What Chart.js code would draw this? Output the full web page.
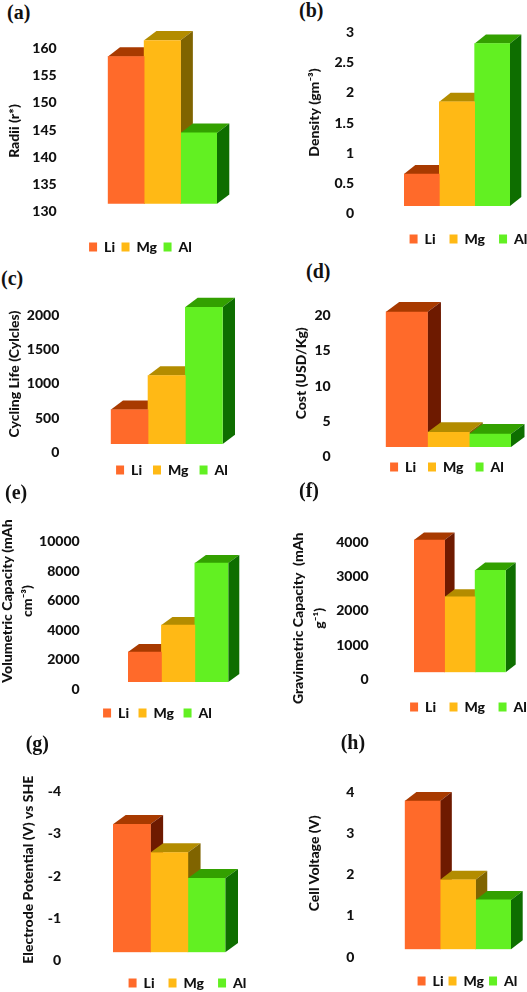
<!DOCTYPE html>
<html><head><meta charset="utf-8">
<style>
html,body{margin:0;padding:0;background:#fff;width:527px;height:992px;overflow:hidden}
#page{position:relative;width:527px;height:992px;overflow:hidden}
canvas{position:absolute}
.tag{position:absolute;font:bold 20px "Liberation Serif",serif;color:#111;line-height:20px}
</style>
<script src="https://cdn.jsdelivr.net/npm/chart.js@4"></script>
</head><body><div id="page"></div>
<script>
const metals = ['Li','Mg','Al'];
const radii = [157,160,143];
const density = [0.53,1.73,2.7];
const cycles = [500,1000,2000];
const cost = [19.2,2.1,1.85];
const volumetric = [2033,3860,8060];
const gravimetric = [3860,2200,2980];
const potential = [-3.03,-2.36,-1.75];
const voltage = [3.6,1.69,1.2];

const frontColors = ['#FF6A2A','#FFB915','#62F022'];
const topColors = ['#A83A00','#B38C00','#33A000'];
const sideColors = ['#6E1A00','#806400','#0E6E00'];
const FONT = 'Lato';
const WEIGHT = '900';

const panels = [
 {tag:'(a)',tagX:7,tagY:12,values:radii,min:130,max:160,step:5,title:'Radii (r*)',titleX:14,titleY:131,
  l:107.7,r:217,top:40.3,base:203.7,dx:12.3,dy:9.3,labelR:56.7,labelOff:8,legendC:140.5,legendY:246.7,gap:6.5,X0:0},
 {tag:'(b)',tagX:299,tagY:10,values:density,min:0,max:3,step:0.5,title:'Density (gm⁻³)',titleX:314,titleY:112.5,
  l:404,r:510,top:25.4,base:206,dx:11.3,dy:9,labelR:354,labelOff:7.3,legendC:468.5,legendY:239,gap:14,X0:285},
 {tag:'(c)',tagX:1,tagY:278,values:cycles,min:0,max:2000,step:500,title:'Cycling Life (Cylcles)',titleX:14,titleY:374,
  l:110.7,r:222.7,top:307,base:444,dx:12.3,dy:9.3,labelR:59.3,labelOff:8.3,legendC:172,legendY:470,gap:11,X0:0},
 {tag:'(d)',tagX:306,tagY:271,values:cost,min:0,max:20,step:5,title:'Cost (USD/Kg)',titleX:301,titleY:373.3,
  l:385.7,r:511,top:306.4,base:447,dx:13.5,dy:10,labelR:330.7,labelOff:9.3,legendC:447,legendY:467,gap:12,X0:285},
 {tag:'(e)',tagX:5,tagY:492,values:volumetric,min:0,max:10000,step:2000,title:['Volumetric Capacity (mAh','cm⁻³)'],titleX:7,titleY:601,
  l:128,r:228.3,top:534.4,base:682,dx:11,dy:8,labelR:79.7,labelOff:7.3,legendC:157.3,legendY:713,gap:9.5,X0:0},
 {tag:'(f)',tagX:299,tagY:490,values:gravimetric,min:0,max:4000,step:1000,title:['Gravimetric Capacity  (mAh','g⁻¹)'],titleX:298.7,titleY:618.3,
  l:414,r:505.7,top:535.3,base:672.3,dx:10,dy:7.7,labelR:368.7,labelOff:7,legendC:468.5,legendY:706.7,gap:13.5,X0:285},
 {tag:'(g)',tagX:25.7,tagY:743,values:potential,min:-4,max:0,step:1,reverse:true,title:'Electrode Potential (V) vs SHE',titleX:28.3,titleY:869.7,
  l:113,r:225.3,top:783.3,base:952.3,dx:12.7,dy:9.3,labelR:61,labelOff:8.3,legendC:187.3,legendY:983.3,gap:14,X0:0},
 {tag:'(h)',tagX:340.7,tagY:741.7,values:voltage,min:0,max:4,step:1,title:'Cell Voltage (V)',titleX:314,titleY:863.3,
  l:404.7,r:511,top:784.6,base:949.3,dx:11.7,dy:9,labelR:354.3,labelOff:7.7,legendC:467.7,legendY:981,gap:5,X0:285}
];

const extrude = {
  id:'extrude',
  beforeDatasetsDraw(chart,args,opts){
    const ctx=chart.ctx, dx=opts.dx, dy=opts.dy, floor=chart.chartArea.bottom;
    metals.forEach((m,i)=>{
      const b=chart.getDatasetMeta(i).data[0];
      const l=b.x-b.width/2, r=b.x+b.width/2, t=Math.min(b.y,b.base), bt=Math.min(Math.max(b.y,b.base),floor);
      ctx.fillStyle=topColors[i];
      ctx.beginPath();ctx.moveTo(l,t);ctx.lineTo(l+dx,t-dy);ctx.lineTo(r+dx,t-dy);ctx.lineTo(r,t);ctx.closePath();ctx.fill();
      ctx.fillStyle=sideColors[i];
      ctx.beginPath();ctx.moveTo(r,t);ctx.lineTo(r+dx,t-dy);ctx.lineTo(r+dx,bt-dy);ctx.lineTo(r,bt);ctx.closePath();ctx.fill();
    });
  }
};

const page=document.getElementById('page');
const TITLE_SIZE=14, TITLE_LH=1.45, LEG_SIZE=14;

panels.forEach(p=>{
  const tag=document.createElement('div');
  tag.className='tag';tag.textContent=p.tag;
  tag.style.left=p.tagX+'px';tag.style.top=(p.tagY-10)+'px';
  page.appendChild(tag);

  const Y0=Math.floor(p.top-22);
  const W=Math.round(2*(p.legendC-p.X0));
  const H=Math.round(p.legendY+LEG_SIZE/2+10-Y0);
  const cv=document.createElement('canvas');
  cv.width=W;cv.height=H;
  cv.style.left=p.X0+'px';cv.style.top=Y0+'px';
  cv.style.width=W+'px';cv.style.height=H+'px';
  page.appendChild(cv);

  const xh=Math.max(0,(Y0+H)-(LEG_SIZE+p.gap+10)-p.base);
  new Chart(cv,{
    type:'bar',
    data:{labels:[''],datasets:metals.map((m,i)=>({label:m,data:[p.values[i]],backgroundColor:frontColors[i],borderWidth:0,barPercentage:1,categoryPercentage:1}))},
    plugins:[extrude],
    options:{
      responsive:false,animation:false,devicePixelRatio:1,
      layout:{padding:{left:0,right:0,bottom:0,top:p.top-Y0}},
      plugins:{
        tooltip:{enabled:false},
        extrude:{dx:p.dx,dy:p.dy},
        legend:{display:true,position:'bottom',onClick:null,
          labels:{boxWidth:8,boxHeight:9,padding:p.gap,color:'#111',font:{family:FONT,size:LEG_SIZE,weight:WEIGHT}}}
      },
      scales:{
        x:{display:true,grid:{display:false,drawTicks:false},border:{display:false},ticks:{display:false},afterFit(s){s.height=xh}},
        y:{position:'left',min:p.min,max:p.max,reverse:!!p.reverse,
          grid:{display:false,drawTicks:false},border:{display:false},
          ticks:{stepSize:p.step,autoSkip:false,color:'#111',padding:p.l-p.labelR,labelOffset:p.labelOff,
            font:{family:FONT,size:14,weight:WEIGHT},callback:v=>String(v)},
          title:{display:true,text:p.title,color:'#111',padding:0,font:{family:FONT,size:TITLE_SIZE,weight:WEIGHT,lineHeight:TITLE_LH}},
          afterFit(s){
            s.width=p.l-p.X0;
            s.paddingTop=0;s.paddingBottom=0;
            s.drawTitle=function(){
              const c=this.ctx,t=this.top,b=this.bottom,lh=TITLE_SIZE*TITLE_LH;
              c.save();
              c.translate(p.titleX-p.X0-this.left-lh/2,p.titleY-Y0-(t+b)/2);
              this.top=t-200;this.bottom=b+200;
              Object.getPrototypeOf(this).drawTitle.call(this);
              this.top=t;this.bottom=b;
              c.restore();
            };
          }},
        y2:{position:'right',display:true,min:0,max:1,grid:{display:false,drawTicks:false},border:{display:false},ticks:{display:false},
          afterFit(s){s.width=p.X0+W-p.r;s.paddingTop=0;s.paddingBottom=0}}
      }
    }
  });
});
</script></body></html>
